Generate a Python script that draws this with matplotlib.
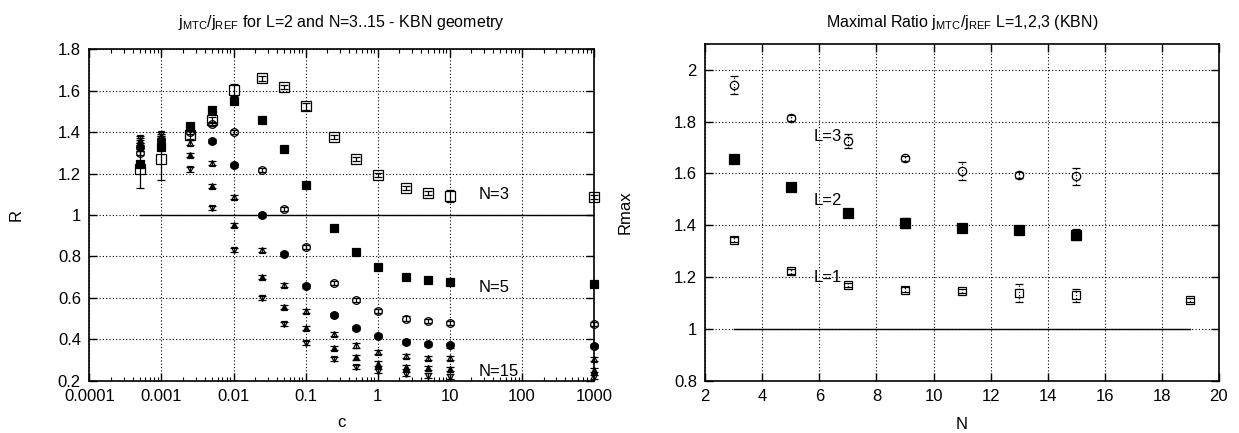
import matplotlib
matplotlib.use("Agg")
import matplotlib.pyplot as plt
import numpy as np
from matplotlib.ticker import LogLocator, NullFormatter

plt.rcParams['font.family'] = ['Liberation Sans', 'DejaVu Sans']
plt.rcParams['font.size'] = 12
plt.rcParams['mathtext.fontset'] = 'custom'
plt.rcParams['mathtext.rm'] = 'Liberation Sans'

# ---------------- left panel data ----------------
c_vals = [0.0005, 0.001, 0.0025, 0.005, 0.01, 0.025, 0.05, 0.1, 0.25, 0.5, 1, 2.5, 5, 10, 1000]
R_N3 = [1.22, 1.27, 1.385, 1.46, 1.604, 1.66, 1.617, 1.524, 1.375, 1.27, 1.195, 1.132, 1.108, 1.092, 1.087]
R_N5 = [1.245, 1.326, 1.43, 1.508, 1.552, 1.46, 1.318, 1.145, 0.935, 0.82, 0.751, 0.70, 0.684, 0.676, 0.669]
R_N7 = [1.30, 1.35, 1.40, 1.44, 1.40, 1.216, 1.027, 0.847, 0.671, 0.588, 0.535, 0.50, 0.487, 0.479, 0.474]
R_N9 = [1.33, 1.36, 1.42, 1.358, 1.24, 1.0, 0.81, 0.658, 0.517, 0.454, 0.414, 0.385, 0.377, 0.37, 0.369]
R_N11 = [1.34, 1.37, 1.35, 1.253, 1.087, 0.83, 0.66, 0.535, 0.424, 0.37, 0.338, 0.319, 0.311, 0.309, 0.304]
R_N13 = [1.36, 1.38, 1.29, 1.14, 0.95, 0.70, 0.556, 0.453, 0.357, 0.312, 0.283, 0.267, 0.262, 0.256, 0.253]
R_N15 = [1.37, 1.39, 1.22, 1.035, 0.83, 0.60, 0.475, 0.383, 0.304, 0.265, 0.245, 0.232, 0.225, 0.22, 0.218]
err_N3 = [0.09, 0.1, 0.02, 0.015, 0.03, 0.012, 0.01, 0.015, 0.01, 0.01, 0.01, 0.01, 0.01, 0.03, 0.01]
err_small = 0.01
left_ref_c = [0.0005, 1000]
left_ref_R = [1.0, 1.0]
left_labels = ["N=3", "N=5", "N=15"]
left_label_c = [25, 25, 25]
left_label_R = [1.097, 0.648, 0.245]

# ---------------- right panel data ----------------
N_L3 = [3, 5, 7, 9, 11, 13, 15]
Rmax_L3 = [1.942, 1.815, 1.725, 1.658, 1.609, 1.595, 1.59]
err_L3 = [0.035, 0.012, 0.027, 0.01, 0.035, 0.012, 0.033]
N_L2 = [3, 5, 7, 9, 11, 13, 15]
Rmax_L2 = [1.657, 1.548, 1.447, 1.409, 1.39, 1.381, 1.364]
err_L2 = [0.012, 0.008, 0.008, 0.018, 0.012, 0.01, 0.022]
N_L1 = [3, 5, 7, 9, 11, 13, 15, 19]
Rmax_L1 = [1.345, 1.223, 1.169, 1.152, 1.146, 1.137, 1.13, 1.11]
err_L1 = [0.01, 0.01, 0.008, 0.008, 0.008, 0.035, 0.025, 0.008]
right_ref_N = [3, 19]
right_ref_R = [1.0, 1.0]
right_labels = ["L=3", "L=2", "L=1"]
right_label_N = [5.8, 5.8, 5.8]
right_label_R = [1.743, 1.496, 1.20]

fig = plt.figure(figsize=(12.39, 4.33), dpi=100)
axL = fig.add_axes([0.0721, 0.1208, 0.4073, 0.7653])
axR = fig.add_axes([0.5692, 0.1208, 0.4146, 0.7776])

def style_axes(ax):
    for s in ax.spines.values():
        s.set_linewidth(1.2)
    ax.tick_params(which='both', direction='in', top=True, right=True)
    ax.tick_params(which='major', length=6, width=1.0, labelsize=12, pad=6)
    ax.tick_params(which='minor', length=3, width=0.8)
    ax.grid(True, which='major', linestyle=(0, (1, 2)), color='black', linewidth=0.8)

# left panel
series = [
    (R_N3, err_N3, 's', 'none', 6.5),
    (R_N5, [err_small] * len(c_vals), 's', 'black', 6),
    (R_N7, [err_small] * len(c_vals), 'o', 'none', 5.5),
    (R_N9, [err_small] * len(c_vals), 'o', 'black', 5.5),
    (R_N11, [err_small] * len(c_vals), '^', 'none', 5),
    (R_N13, [err_small] * len(c_vals), '^', 'black', 5),
    (R_N15, [err_small] * len(c_vals), 'v', 'none', 5),
]
for vals, err, mk, fc, ms in series:
    axL.errorbar(c_vals, vals, yerr=err, fmt=mk, mfc=fc, mec='black', ecolor='black',
                 color='black', ms=ms, mew=0.9, elinewidth=0.9, capsize=3, capthick=0.9,
                 clip_on=False, zorder=3)
axL.plot(left_ref_c, left_ref_R, color='black', linewidth=1.0, zorder=2)
for t, cx, ry in zip(left_labels, left_label_c, left_label_R):
    axL.text(cx, ry, t, fontsize=12, ha='left', va='center')
axL.set_xscale('log')
axL.set_xlim(1e-4, 1e3)
axL.set_ylim(0.2, 1.8)
axL.set_yticks(np.arange(0.2, 1.81, 0.2))
axL.set_yticklabels(["0.2", "0.4", "0.6", "0.8", "1", "1.2", "1.4", "1.6", "1.8"])
axL.xaxis.set_minor_locator(LogLocator(base=10, subs=np.arange(2, 10), numticks=100))
axL.xaxis.set_minor_formatter(NullFormatter())
axL.set_xticks([1e-4, 1e-3, 1e-2, 1e-1, 1, 10, 100, 1000])
axL.set_xticklabels(["0.0001", "0.001", "0.01", "0.1", "1", "10", "100", "1000"])
style_axes(axL)
axL.set_xlabel("c", fontsize=12)
axL.set_ylabel("R", fontsize=12)
axL.xaxis.set_label_coords(0.5, -0.105)
axL.yaxis.set_label_coords(-0.131, 0.5)

# right panel
rseries = [
    (N_L3, Rmax_L3, err_L3, 'o', 'none', 6),
    (N_L2, Rmax_L2, err_L2, 's', 'black', 6.5),
    (N_L1, Rmax_L1, err_L1, 's', 'none', 5.5),
]
for n, v, e, mk, fc, ms in rseries:
    eb = axR.errorbar(n, v, yerr=e, fmt=mk, mfc=fc, mec='black', ecolor='black', color='black',
                      ms=ms, mew=0.9, elinewidth=0.9, capsize=3, capthick=0.9, zorder=3)
    for coll in eb[2]:
        coll.set_linestyle((0, (1, 1.5)))
axR.plot(right_ref_N, right_ref_R, color='black', linewidth=1.0, zorder=2)
for t, nx, ry in zip(right_labels, right_label_N, right_label_R):
    axR.text(nx, ry, t, fontsize=12, ha='left', va='center')
axR.set_xlim(2, 20)
axR.set_ylim(0.8, 2.1)
axR.set_xticks(np.arange(2, 21, 2))
axR.set_yticks(np.arange(0.8, 2.01, 0.2))
axR.set_yticklabels(["0.8", "1", "1.2", "1.4", "1.6", "1.8", "2"])
style_axes(axR)
axR.set_xlabel("N", fontsize=12)
axR.set_ylabel("Rmax", fontsize=12)
axR.xaxis.set_label_coords(0.5, -0.108)
axR.yaxis.set_label_coords(-0.141, 0.5)

fig.text(0.2757, 1 - 22 / 433, r"$\mathrm{j_{MTC}/j_{REF}}$ for L=2 and N=3..15 - KBN geometry",
         ha='center', va='center', fontsize=11.5)
fig.text(0.7765, 1 - 22 / 433, r"Maximal Ratio $\mathrm{j_{MTC}/j_{REF}}$ L=1,2,3 (KBN)",
         ha='center', va='center', fontsize=11.5)

fig.savefig("out.png", dpi=100)
